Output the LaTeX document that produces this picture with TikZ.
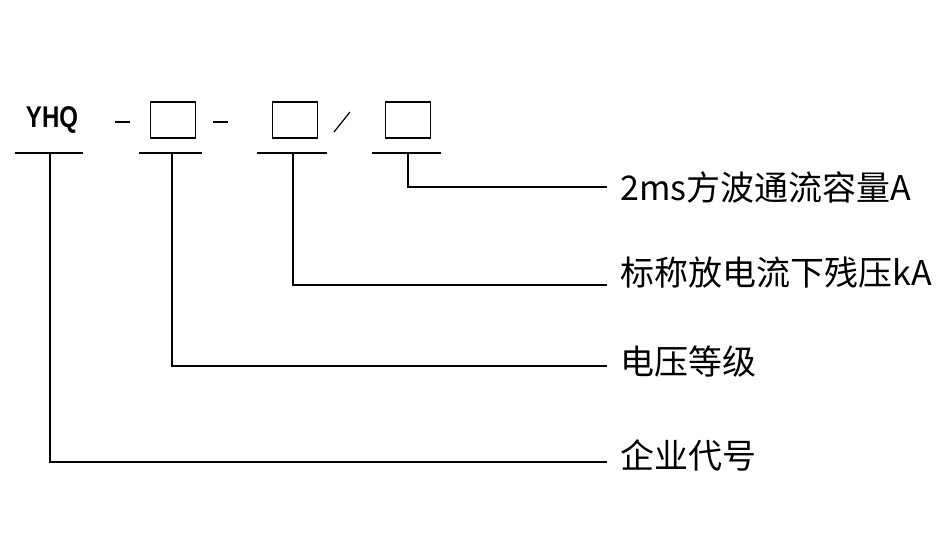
\documentclass[tikz,border=0pt]{standalone}
\usepackage{fontspec}
\newfontfamily\cjk{Noto Sans CJK SC}
\newfontfamily\lsans{Liberation Sans}
\begin{document}
\begin{tikzpicture}[x=1pt,y=-1pt,line width=1.2pt,
  lbl/.style={anchor=west,inner sep=0pt,font=\cjk\fontsize{34}{34}\selectfont},
  bx/.style={draw,minimum width=45pt,minimum height=36pt,inner sep=0pt}]
\useasboundingbox (0,0) rectangle (951,558);
\node[font=\lsans\bfseries\fontsize{30}{30}\selectfont,inner sep=0pt,xscale=0.8] (yhq) at (52,120) {YHQ};
\draw (115,122) -- (130,122);
\node[bx] (b1) at (173,120) {};
\draw (213,122) -- (228,122);
\node[bx] (b2) at (295,120) {};
\draw (334,132) -- (350,112);
\node[bx] (b3) at (408,120) {};
\draw (15,153) -- (83,153);
\draw (139,153) -- (202,153);
\draw (257,153) -- (327,153);
\draw (372,153) -- (441,153);
\node[lbl] (l1) at (620,187) {2ms方波通流容量A};
\node[lbl] (l2) at (620,273) {标称放电流下残压kA};
\node[lbl] (l3) at (620,362) {电压等级};
\node[lbl] (l4) at (620,455) {企业代号};
\draw (408,153) |- (607,187);
\draw (293,153) |- (607,285);
\draw (172,153) |- (607,366);
\draw (50,153) |- (607,462);
\end{tikzpicture}
\end{document}
